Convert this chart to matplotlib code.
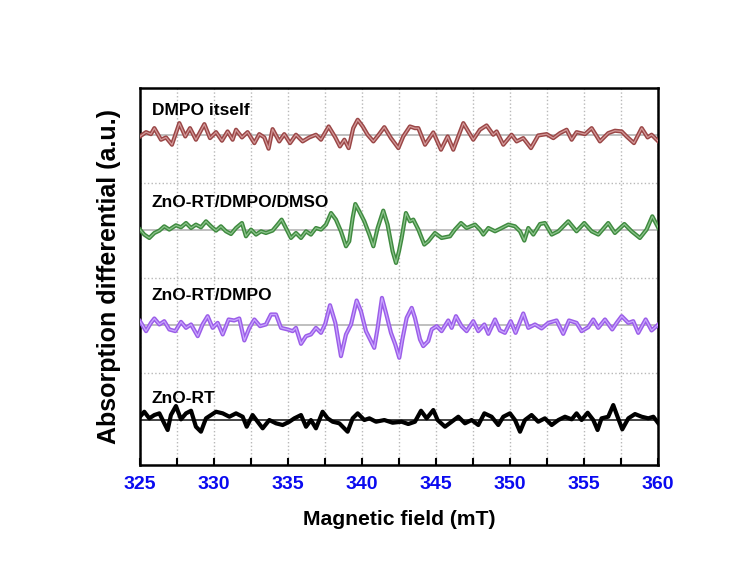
import matplotlib
matplotlib.use("Agg")
import matplotlib.pyplot as plt
from matplotlib.ticker import MultipleLocator

plt.rcParams['font.family'] = ['Liberation Sans', 'DejaVu Sans']

# ---- spectra (field in mT, signal in a.u.) ----
field_dmpo = [325.00, 325.41, 325.74, 325.97, 326.42, 326.76, 327.16, 327.66, 328.06, 328.38,
              328.78, 329.35, 329.73, 330.14, 330.54, 330.92, 331.26, 331.49, 331.89, 332.27,
              332.73, 333.06, 333.40, 333.69, 333.96, 334.41, 334.75, 335.14, 335.54, 335.99,
              336.44, 336.89, 337.23, 337.75, 338.20, 338.51, 338.81, 339.10, 339.41, 339.71,
              340.05, 340.38, 340.77, 341.13, 341.51, 341.96, 342.46, 342.79, 343.24, 343.58,
              343.81, 344.26, 344.82, 345.34, 345.79, 346.17, 346.85, 347.52, 347.97, 348.42,
              348.87, 349.10, 349.55, 350.11, 350.45, 350.90, 351.42, 351.91, 352.48, 352.93,
              353.38, 353.83, 354.17, 354.50, 355.07, 355.52, 356.08, 356.64, 357.09, 357.55,
              357.88, 358.38, 358.90, 359.30, 359.57, 359.98]
sig_dmpo = [-1.0, 3.3, 1.3, 7.3, -4.3, -2.0, -9.3, 12.3, -1.0, 7.3,
            -4.3, 11.3, -2.7, 3.3, -5.3, 4.0, -4.3, 5.7, -2.0, 3.3,
            -7.7, 1.3, -2.0, -13.3, 6.3, -6.0, 1.3, -7.7, 0.7, -6.0,
            -2.0, 0.7, -4.3, 9.0, -2.0, -11.0, -4.3, -12.7, 7.3, 15.7,
            9.0, 0.7, -6.0, 0.7, 8.3, -2.7, -12.7, -1.0, 9.0, 7.3,
            7.3, -9.3, 3.0, -14.3, -1.0, -14.3, 12.3, -4.3, 5.7, 10.0,
            0.7, 4.0, -9.3, 0.7, -6.0, -2.7, -12.7, 0.0, 1.3, -2.7,
            2.3, 5.7, -4.3, 3.3, 1.3, 7.3, -6.0, 2.3, 4.7, 4.0,
            -1.0, -7.7, 7.3, -2.0, 0.7, -5.3]

field_dmso = [325.00, 325.29, 325.63, 325.97, 326.31, 326.64, 326.98, 327.43, 327.77, 328.11,
              328.45, 328.78, 329.12, 329.46, 329.80, 330.14, 330.47, 330.81, 331.15, 331.49,
              331.89, 332.16, 332.50, 332.84, 333.18, 333.51, 333.96, 334.30, 334.57, 334.86,
              335.20, 335.54, 335.88, 336.22, 336.55, 336.89, 337.23, 337.57, 337.91, 338.24,
              338.58, 338.92, 339.14, 339.37, 339.55, 339.82, 340.16, 340.50, 340.77, 341.06,
              341.44, 341.73, 342.07, 342.30, 342.50, 342.68, 342.97, 343.24, 343.47, 343.81,
              344.21, 344.48, 344.93, 345.38, 345.95, 346.28, 346.69, 347.07, 347.64, 347.97,
              348.20, 348.54, 348.99, 349.44, 349.89, 350.34, 350.68, 350.97, 351.24, 351.58,
              352.03, 352.36, 352.82, 353.27, 353.94, 354.50, 355.02, 355.52, 355.97, 356.64,
              357.09, 357.73, 358.22, 358.78, 359.23, 359.62, 360.03]
sig_dmso = [0.7, -4.3, -7.7, -2.7, -0.3, 4.0, 0.7, 5.0, 3.0, 7.3,
            2.3, 5.7, 3.0, 9.0, 4.0, -0.3, 4.0, -1.0, -3.7, 2.3,
            7.3, -6.0, 0.7, -4.3, -1.0, -2.7, -0.3, 5.7, 10.7, 2.3,
            -7.7, -2.7, -7.7, -1.0, -4.3, 2.3, 0.7, 5.7, 17.3, 10.7,
            -1.0, -16.0, -11.0, 12.3, 26.3, 19.0, 9.0, -4.3, -16.0, 2.3,
            19.7, 5.7, -21.0, -32.7, -21.0, -7.7, 17.3, 9.0, 10.7, 0.7,
            -14.3, -11.0, -2.7, -7.7, -6.0, 0.7, 7.3, 2.3, 5.7, 0.7,
            -4.3, 2.3, -1.0, 2.3, 5.7, 4.0, -1.0, -10.3, 2.3, -4.3,
            6.3, 7.3, -4.3, -1.0, 9.0, -1.0, 7.3, -1.0, -4.3, 7.3,
            -2.7, 6.3, -1.0, -7.7, 0.7, 14.0, 2.3]

field_zno_dmpo = [325.00, 325.41, 325.74, 325.97, 326.31, 326.64, 326.98, 327.39, 327.77, 328.11,
                  328.45, 328.90, 329.23, 329.57, 329.91, 330.25, 330.59, 330.99, 331.37, 331.71,
                  332.05, 332.39, 332.73, 333.11, 333.51, 333.85, 334.19, 334.53, 334.98, 335.32,
                  335.54, 335.88, 336.22, 336.55, 336.89, 337.23, 337.52, 337.84, 338.20, 338.58,
                  338.92, 339.26, 339.64, 339.93, 340.27, 340.83, 341.06, 341.35, 341.62, 341.96,
                  342.25, 342.52, 342.73, 343.02, 343.36, 343.58, 343.92, 344.14, 344.48, 344.71,
                  345.05, 345.38, 345.83, 346.06, 346.35, 346.73, 347.07, 347.52, 347.86, 348.27,
                  348.54, 348.99, 349.32, 349.66, 350.05, 350.38, 350.90, 351.24, 351.69, 352.14,
                  352.59, 353.15, 353.60, 353.99, 354.50, 354.84, 355.29, 355.63, 355.97, 356.42,
                  356.91, 357.21, 357.55, 358.00, 358.33, 358.67, 359.17, 359.57, 360.03]
sig_zno_dmpo = [4.0, -6.0, 2.3, 6.7, 0.7, 4.0, -4.3, -6.0, 3.3, -2.7,
                0.7, -11.0, 0.7, 9.0, -2.7, 2.3, -9.3, 5.7, 4.7, 6.7,
                -15.3, -2.7, 5.7, -1.0, 0.7, 10.7, 10.7, -2.7, -4.3, -6.0,
                -2.7, -18.7, -11.0, -9.3, -2.7, -7.7, 1.3, 20.0, 2.3, -31.0,
                -9.3, 0.7, 24.7, 14.0, -6.0, -22.7, -2.7, 27.3, 12.3, -7.7,
                -19.3, -32.7, -14.3, 7.3, 17.3, 7.3, -14.3, -21.0, -16.0, -4.3,
                -1.0, -6.0, 4.7, -2.7, 9.0, -1.0, -6.0, 4.0, -6.0, 0.7,
                -8.7, 5.7, -5.3, -7.7, 4.0, -7.7, 11.7, -2.7, 0.7, -3.3,
                2.3, 4.7, -8.7, 4.7, 2.3, -6.0, -2.0, 5.7, -2.7, 5.7,
                -4.3, 2.3, 9.0, 2.3, 4.0, -7.7, 5.7, -5.3, 0.7]

field_zno = [325.00, 325.29, 325.63, 325.97, 326.31, 326.64, 326.87, 327.09, 327.43, 327.77,
             328.11, 328.45, 328.78, 329.12, 329.46, 329.80, 330.14, 330.59, 331.04, 331.49,
             331.94, 332.21, 332.61, 332.95, 333.29, 333.74, 334.19, 334.64, 335.09, 335.43,
             335.88, 336.22, 336.55, 336.89, 337.34, 337.68, 338.02, 338.47, 339.03, 339.37,
             339.71, 340.16, 340.50, 340.95, 341.51, 342.07, 342.68, 343.13, 343.58, 343.99,
             344.37, 344.82, 345.11, 345.61, 346.06, 346.51, 346.96, 347.41, 347.86, 348.27,
             348.76, 349.21, 349.55, 350.00, 350.34, 350.68, 351.01, 351.46, 351.91, 352.36,
             352.82, 353.27, 353.72, 354.17, 354.50, 354.84, 355.25, 355.63, 355.92, 356.19,
             356.64, 356.98, 357.27, 357.59, 358.00, 358.45, 358.90, 359.35, 359.69, 360.03]
sig_zno = [3.3, 8.3, 1.7, 5.0, 6.7, -3.3, -10.0, 5.0, 14.0, 0.7,
           6.7, 9.3, -6.7, -11.7, 1.7, 5.0, 8.3, 6.7, 3.3, 6.7,
           3.3, -6.7, 5.0, -1.7, -8.3, 0.0, -3.3, -5.0, -1.7, 1.7,
           5.0, -6.7, 0.0, -8.3, 8.3, 1.7, -1.7, -3.3, -11.7, 1.7,
           6.7, 0.0, 1.7, -1.7, 0.0, -2.7, -1.7, -4.0, -1.7, 9.3,
           1.7, 10.0, 0.0, -6.7, -1.7, 3.3, -3.3, 0.0, -5.0, 6.7,
           3.3, -5.0, 3.3, 6.7, 0.0, -11.7, 0.0, 5.0, -1.7, 1.7,
           -5.0, 0.0, 3.3, 0.7, 6.7, 0.0, 7.3, 0.0, -10.0, 1.7,
           3.3, 15.0, 3.3, -9.3, 1.7, 6.0, 3.3, 1.7, 3.3, -3.3]

labels = ['ZnO-RT', 'ZnO-RT/DMPO', 'ZnO-RT/DMPO/DMSO', 'DMPO itself']
offsets = [0, 1, 2, 3]
scale = 1 / 95.0

fig = plt.figure(figsize=(7.51, 5.67), dpi=100)
ax = fig.add_axes([0.1864, 0.1799, 0.6897, 0.6649])

series = [
    (field_zno, sig_zno, '#000000', '#000000', '#222222'),
    (field_zno_dmpo, sig_zno_dmpo, '#9b5de8', '#c9a6ff', '#b4b4b4'),
    (field_dmso, sig_dmso, '#3f8a3f', '#8cc48c', '#b4b4b4'),
    (field_dmpo, sig_dmpo, '#9a4646', '#d49a9a', '#b4b4b4'),
]
label_y = [0.18, 1.265, 2.245, 3.215]

for (fx, fy, c_out, c_in, c_base), off, lab, ly in zip(series, offsets, labels, label_y):
    ax.axhline(off, color=c_base, lw=1.2, zorder=2)
    ys = [off + v * scale for v in fy]
    ax.plot(fx, ys, color=c_out, lw=3.0, solid_joinstyle='round', zorder=3)
    if c_in != c_out:
        ax.plot(fx, ys, color=c_in, lw=0.9, zorder=4)
    ax.text(325.8, ly, lab, fontsize=12.5, fontweight='bold', va='baseline', ha='left', zorder=5)

ax.set_xlim(325, 360)
ax.set_ylim(-0.474, 3.5)

ax.xaxis.set_major_locator(MultipleLocator(5))
ax.xaxis.set_minor_locator(MultipleLocator(2.5))
ax.set_yticks([0.5, 1.5, 2.5])
ax.grid(True, which='both', axis='x', linestyle=':', color='#b8b8b8', lw=1)
ax.grid(True, which='major', axis='y', linestyle=':', color='#b8b8b8', lw=1)
ax.set_axisbelow(True)

ax.tick_params(axis='x', which='both', direction='in', length=5, width=1.5, top=False,
               labelsize=14, labelcolor='#0a0af0', pad=8)
ax.tick_params(axis='y', which='both', length=0, labelleft=False)
for lab in ax.get_xticklabels():
    lab.set_fontweight('bold')
for s in ax.spines.values():
    s.set_linewidth(1.8)

ax.set_xlabel('Magnetic field (mT)', fontsize=15.2, fontweight='bold', labelpad=12)
ax.set_ylabel('Absorption differential (a.u.)', fontsize=18, fontweight='bold', labelpad=14)

fig.savefig('out.png', dpi=100)
